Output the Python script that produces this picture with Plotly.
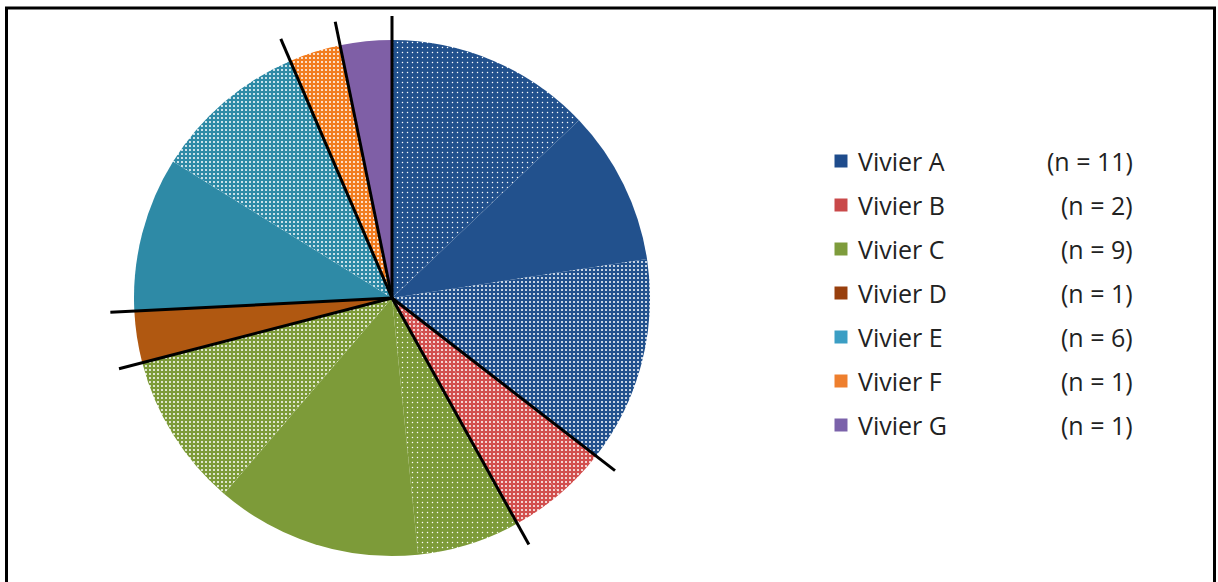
import math
import plotly.graph_objects as go

# ── Data ──────────────────────────────────────────────────────────────────────
groups = ["Vivier A", "Vivier B", "Vivier C", "Vivier D", "Vivier E", "Vivier F", "Vivier G"]
counts = [11, 2, 9, 1, 6, 1, 1]
n_labels = ["(n = 11)", "(n = 2)", "(n = 9)", "(n = 1)", "(n = 6)", "(n = 1)", "(n = 1)"]

# each vivier is split in sub-slices (sizes + fill style)
sub_sizes = [[4, 3, 4], [1, 1], [2, 4, 3], [1], [3, 3], [1], [1]]
sub_fills = [
    ["sparse", "solid", "dense"],
    ["dense", "dense"],
    ["sparse", "solid", "dense"],
    ["solid"],
    ["solid", "dense"],
    ["dense"],
    ["solid"],
]

slice_colors = ["#22518D", "#D24F4E", "#7D9B39", "#B05811", "#2E8AA6", "#F27C1F", "#7F5FA6"]
legend_colors = ["#1F4C8C", "#C9494A", "#7E9C3C", "#983F0D", "#3B9EC4", "#EE7F2E", "#7B62AA"]

# ── Layout constants (pixels) ────────────────────────────────────────────────
W, H = 1218, 582
CX, CY, R = 392, 298, 258
LINE_LEN = 282

FILLS = {
    "solid": dict(shape="", size=4, solidity=0.2),
    "sparse": dict(shape=".", size=5, solidity=0.07),
    "dense": dict(shape=".", size=4, solidity=0.2),
}

values, colors, shapes_, psize, psol, ids = [], [], [], [], [], []
for g, sizes, fills, col in zip(groups, sub_sizes, sub_fills, slice_colors):
    for k, (v, f) in enumerate(zip(sizes, fills)):
        values.append(v)
        colors.append(col)
        shapes_.append(FILLS[f]["shape"])
        psize.append(FILLS[f]["size"])
        psol.append(FILLS[f]["solidity"])
        ids.append(f"{g} #{k + 1}")

fig = go.Figure()

fig.add_trace(go.Pie(
    labels=ids,
    values=values,
    sort=False,
    direction="clockwise",
    rotation=0,
    textinfo="none",
    hoverinfo="label+value",
    showlegend=False,
    marker=dict(
        colors=colors,
        line=dict(width=0),
        pattern=dict(shape=shapes_, size=psize, solidity=psol,
                     fgcolor="white", bgcolor=colors, fillmode="replace"),
    ),
    domain=dict(
        x=[(CX - R) / W, (CX + R) / W],
        y=[(H - CY - R) / H, (H - CY + R) / H],
    ),
))

# black separator lines at each vivier boundary (shapes so they sit above the pie)
total = sum(counts)
cum = 0
for c in [0] + counts[:-1]:
    cum += c
    ang = math.radians(cum / total * 360)
    fig.add_shape(type="line", xref="x", yref="y", layer="above",
                  x0=CX, y0=CY,
                  x1=CX + LINE_LEN * math.sin(ang), y1=CY - LINE_LEN * math.cos(ang),
                  line=dict(color="black", width=3))

# custom legend
LEG_X, LEG_Y0, LEG_DY = 841, 161, 44
fig.add_trace(go.Scatter(
    x=[LEG_X] * len(groups),
    y=[LEG_Y0 + i * LEG_DY for i in range(len(groups))],
    mode="markers",
    marker=dict(symbol="square", size=13, color=legend_colors, line=dict(width=0)),
    hoverinfo="skip", showlegend=False,
))
for i, (g, n) in enumerate(zip(groups, n_labels)):
    y = LEG_Y0 + i * LEG_DY
    fig.add_annotation(x=856, y=y, xref="x", yref="y", text=g, showarrow=False,
                       xanchor="left", yanchor="middle",
                       font=dict(family="Open Sans", size=25, color="#222"))
    fig.add_annotation(x=1135, y=y, xref="x", yref="y", text=n, showarrow=False,
                       xanchor="right", yanchor="middle",
                       font=dict(family="Open Sans", size=25, color="#222"))

# outer frame
fig.add_shape(type="rect", xref="x", yref="y", x0=6.5, x1=1214.5, y0=8, y1=620,
              line=dict(color="black", width=3), layer="above")

fig.update_layout(
    width=W, height=H,
    margin=dict(l=0, r=0, t=0, b=0),
    paper_bgcolor="white",
    plot_bgcolor="rgba(0,0,0,0)",
    xaxis=dict(range=[0, W], visible=False, fixedrange=True),
    yaxis=dict(range=[H, 0], visible=False, fixedrange=True),
    showlegend=False,
)

fig.write_html("out.html", config={"displayModeBar": False},
               post_script="document.body.style.margin='0';document.body.style.overflow='hidden';")
